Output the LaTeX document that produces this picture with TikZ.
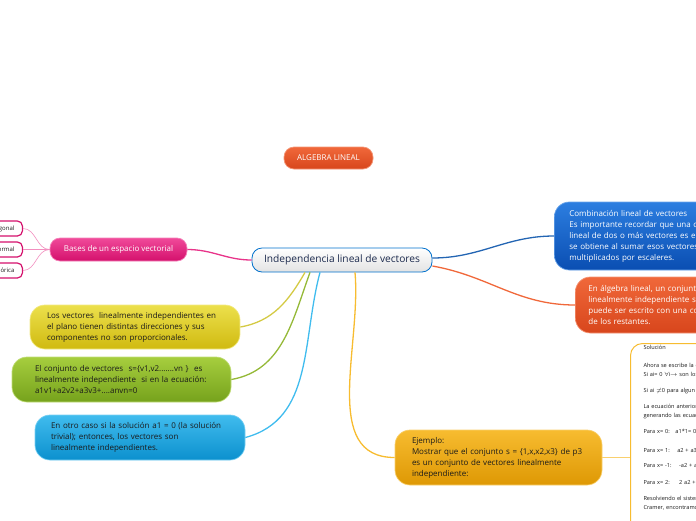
\documentclass[tikz,border=0pt]{standalone}
\usepackage{fontspec}
\setmainfont{Open Sans}
\usetikzlibrary{shapes, positioning, calc}
\definecolor{pinkTop}{HTML}{F04A9A}
\definecolor{pinkBot}{HTML}{D4106C}
\definecolor{pinkLine}{HTML}{E8348A}
\definecolor{redTop}{HTML}{F0683A}
\definecolor{redBot}{HTML}{D8461C}
\definecolor{blueTop}{HTML}{2C7EE0}
\definecolor{blueBot}{HTML}{0A4EB2}
\definecolor{yelTop}{HTML}{ECE04C}
\definecolor{yelBot}{HTML}{D0BA10}
\definecolor{grnTop}{HTML}{A6CE3E}
\definecolor{grnBot}{HTML}{76A21C}
\definecolor{skyTop}{HTML}{40BCEE}
\definecolor{skyBot}{HTML}{0C90CE}
\definecolor{ambTop}{HTML}{F7BC30}
\definecolor{ambBot}{HTML}{DE9804}
\definecolor{navy}{HTML}{1D2B4E}
\definecolor{ink}{HTML}{1A1A1A}
\tikzset{
    topic/.style 2 args={
        rectangle, rounded corners=15pt,
        top color=#1, bottom color=#2, draw=#1!70!white,
        line width=0.7pt, align=left, inner ysep=0pt,
        font=\fontsize{8}{11}\selectfont
    },
    central/.style={
        rectangle, rounded corners=10pt, draw=blue!45!cyan!80!black,
        top color=white, bottom color=gray!22, line width=0.8pt,
        text=navy, font=\fontsize{10.2}{11}\selectfont
    },
    leaf/.style={
        rectangle, rounded corners=5pt, draw=pinkBot, fill=white,
        line width=1.2pt, text=ink, minimum height=15pt, inner xsep=8pt,
        font=\fontsize{6}{7}\selectfont
    },
    solbox/.style={
        rectangle, rounded corners=12pt, draw=ambTop, fill=white,
        line width=1pt, align=left, text=ink, inner xsep=13pt, inner ysep=2pt,
        font=\fontsize{5.6}{9}\selectfont
    },
    link/.style={line width=1.3pt},
    twig/.style={line width=0.6pt, pinkLine!55!white}
}
\begin{document}
\begin{tikzpicture}[x=1pt, y=1pt]
        \clip (0,0) rectangle (696,-520);
        % Layout
        \node [topic={redTop}{redBot}, text=white, rounded corners=10pt, minimum width=89pt, minimum height=22pt, align=center] (alg) at (328.5,-158) {ALGEBRA LINEAL};
        \node [central, minimum width=180pt, minimum height=24pt] (main) at (342,-260) {Independencia lineal de vectores};
        \node [topic={pinkTop}{pinkBot}, text=white, rounded corners=10pt, minimum width=137pt, minimum height=23pt, align=center] (bases) at (118.5,-249.5) {Bases de un espacio vectorial};
        \node [leaf, anchor=east] (ortog) at (23,-228.5) {Base ortogonal};
        \node [leaf, anchor=east] (ortonorm) at (23,-249.5) {Base ortonormal};
        \node [leaf, anchor=east] (teor) at (23,-270.5) {Base teórica};
        \node [topic={blueTop}{blueBot}, text=white, anchor=west, text width=220pt, inner xsep=15pt, minimum height=68pt] (comb) at (554,-236) {Combinación lineal de vectores\\Es importante recordar que una combinación\\lineal de dos o más vectores es el vector que\\se obtiene al sumar esos vectores\\multiplicados por escaleres.};
        \node [topic={redTop}{redBot}, text=white, anchor=west, text width=220pt, inner xsep=13pt, minimum height=56pt] (alglin) at (575,-305) {En álgebra lineal, un conjunto de vectores es\\linealmente independiente si ninguno de ellos\\puede ser escrito con una combinación lineal\\de los restantes.};
        \node [topic={yelTop}{yelBot}, text=ink, text width=176pt, inner xsep=17pt, minimum height=44pt] (plano) at (135,-327) {Los vectores\ \ linealmente independientes en\\el plano tienen distintas direcciones y sus\\componentes no son proporcionales.};
        \node [topic={grnTop}{grnBot}, text=ink, text width=173pt, inner xsep=23pt, minimum height=45pt] (conj) at (121.5,-379.5) {El conjunto de vectores\ \ s=\{v1,v2.......vn \}\ \ es\\linealmente independiente\ \ si en la ecuación:\\a1v1+a2v2+a3v3+....anvn=0};
        \node [topic={skyTop}{skyBot}, text=ink, text width=178pt, inner xsep=16pt, minimum height=45pt] (otro) at (140,-437.5) {En otro caso si la solución a1 = 0 (la solución\\trivial); entonces, los vectores son\\linealmente independientes.};
        \node [topic={ambTop}{ambBot}, text=ink, text width=173pt, inner xsep=17pt, minimum height=55pt] (ejem) at (498.5,-457.5) {Ejemplo:\\Mostrar que el conjunto s = \{1,x,x2,x3\} de p3\\es un conjunto de vectores linealmente\\independiente:};
        \node [solbox, anchor=north west, text width=110pt] (sol) at (630,-343) {Solución\\[9pt]
            Ahora se escribe la ecuación vectorial\\
            Si ai= 0 $\forall$i$\rightarrow$ son los vectores\\[7pt]
            Si ai $\neq$0 para algun i\\[7pt]
            La ecuación anterior se cumple\\
            generando las ecuaciones\\[7pt]
            Para x= 0:\ \ \ a1*1= 0\\[10pt]
            Para x= 1:\ \ \ \ a2 + a3 + a4\\[6pt]
            Para x= -1:\ \ \ \ -a2 + a3\\[8pt]
            Para x= 2:\ \ \ \ \ 2 a2 + 4 a3\\[7pt]
            Resolviendo el sistema por\\
            Cramer, encontramos que\\[20pt]
            \strut};

        % Flows
        \draw [link, pinkLine] (bases.east) to[out=0, in=180] (main.west);
        \draw [twig] (bases.west) to[out=180, in=0] (ortog.east);
        \draw [twig] (bases.west) to[out=180, in=0] (ortonorm.east);
        \draw [twig] (bases.west) to[out=180, in=0] (teor.east);
        \draw [link, blueTop!80!black] ([yshift=2pt]main.east) to[out=0, in=180] (comb.west);
        \draw [link, redTop] ([yshift=-6pt]main.east) to[out=-10, in=180] (alglin.west);
        \draw [link, yelTop!90!black] ([xshift=-37pt]main.south) to[out=-120, in=10] (plano.east);
        \draw [link, grnTop!90!black] ([xshift=-32pt]main.south) to[out=-110, in=10] (conj.east);
        \draw [link, skyTop] ([xshift=-22pt]main.south) to[out=-105, in=15] (otro.east);
        \draw [link, ambTop] ([xshift=13pt]main.south) to[out=-85, in=180] (ejem.west);
        \draw [link, ambTop!70!white, line width=0.8pt] (ejem.east) -- (ejem.east -| sol.west);
    \end{tikzpicture}
\end{document}
